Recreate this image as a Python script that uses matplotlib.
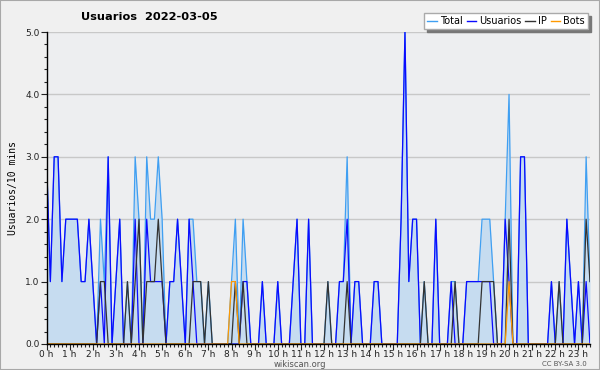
import matplotlib
matplotlib.use("Agg")
import matplotlib.pyplot as plt
from matplotlib.lines import Line2D
from matplotlib.patches import Rectangle
from matplotlib.ticker import MultipleLocator

# valores cada 10 minutos (6 por hora)
usuarios = [3, 1, 3, 3, 1, 2,  2, 2, 2, 1, 1, 2,  1, 0, 1, 0, 3, 0,  1, 2, 0, 0, 0, 2,
            0, 0, 2, 1, 1, 1,  1, 0, 1, 1, 2, 1,  0, 2, 1, 0, 0, 0,  0, 0, 0, 0, 0, 0,
            0, 0, 0, 1, 1, 0,  0, 0, 1, 0, 0, 0,  1, 0, 0, 0, 1, 2,  0, 0, 2, 0, 0, 0,
            0, 0, 0, 0, 1, 1,  2, 0, 1, 1, 0, 0,  0, 1, 1, 0, 0, 0,  0, 0, 2, 5, 1, 2,
            2, 0, 0, 0, 0, 2,  0, 0, 0, 1, 0, 0,  0, 1, 1, 1, 1, 1,  1, 1, 0, 0, 0, 2,
            1, 0, 0, 3, 3, 0,  0, 0, 0, 0, 0, 1,  0, 0, 0, 2, 1, 0,  1, 0, 1, 0]
ip = [0, 0, 0, 0, 0, 0,  0, 0, 0, 0, 0, 0,  0, 0, 1, 1, 0, 0,  0, 0, 0, 1, 0, 1,
      2, 0, 1, 1, 1, 2,  1, 0, 0, 0, 0, 0,  0, 0, 1, 1, 1, 0,  1, 0, 0, 0, 0, 0,
      0, 1, 0, 1, 0, 0,  0, 0, 0, 0, 0, 0,  0, 0, 0, 0, 0, 0,  0, 0, 0, 0, 0, 0,
      0, 1, 0, 0, 0, 0,  1, 0, 0, 0, 0, 0,  0, 0, 0, 0, 0, 0,  0, 0, 0, 0, 0, 0,
      0, 0, 1, 0, 0, 0,  0, 0, 0, 0, 1, 0,  0, 0, 0, 0, 0, 1,  1, 1, 1, 0, 0, 0,
      2, 0, 0, 0, 0, 0,  0, 0, 0, 0, 0, 0,  0, 1, 0, 0, 0, 0,  0, 0, 2, 1]
bots = [0] * 48 + [1, 1] + [0] * 70 + [1] + [0] * 21
total = [3, 1, 3, 3, 1, 2,  2, 2, 2, 1, 1, 2,  1, 0, 2, 1, 3, 0,  1, 2, 0, 1, 0, 3,
         2, 0, 3, 2, 2, 3,  2, 0, 1, 1, 2, 1,  0, 2, 2, 1, 1, 0,  1, 0, 0, 0, 0, 0,
         1, 2, 0, 2, 1, 0,  0, 0, 1, 0, 0, 0,  1, 0, 0, 0, 1, 2,  0, 0, 2, 0, 0, 0,
         0, 1, 0, 0, 1, 1,  3, 0, 1, 1, 0, 0,  0, 1, 1, 0, 0, 0,  0, 0, 2, 5, 1, 2,
         2, 0, 1, 0, 0, 2,  0, 0, 0, 1, 1, 0,  0, 1, 1, 1, 1, 2,  2, 2, 1, 0, 0, 2,
         4, 0, 0, 3, 3, 0,  0, 0, 0, 0, 0, 1,  0, 1, 0, 2, 1, 0,  1, 0, 3, 1]
horas = [i / 6 for i in range(len(total))]
hora_labels = ["%d h" % h for h in range(24)]

c_total = "#3f9ff2"
c_usr = "#0a0aff"
c_ip = "#333333"
c_bots = "#ff9900"

fig = plt.figure(figsize=(6, 3.7), dpi=100)
fig.patch.set_facecolor("#f0f0f0")
fig.patches.append(Rectangle((0, 0), 1, 1, transform=fig.transFigure, fill=False,
                             edgecolor="#a8a8a8", lw=1.5))

ax = fig.add_axes([0.0775, 0.0703, 0.9058, 0.8432])
ax.set_facecolor("#edeef0")
ax.fill_between(horas, total, color="#c6dcf0", lw=0)
ax.plot(horas, total, color=c_total, lw=0.9)
ax.plot(horas, usuarios, color=c_usr, lw=0.9)
ax.plot(horas, ip, color=c_ip, lw=0.9)
ax.plot(horas, bots, color=c_bots, lw=0.9)

ax.set_xlim(0, horas[-1])
ax.set_ylim(0, 5)
ax.set_xticks(range(24))
ax.set_xticklabels(hora_labels)
ax.xaxis.set_minor_locator(MultipleLocator(1 / 6))
ax.set_yticks(range(6))
ax.set_yticklabels(["%.1f" % v for v in range(6)])
ax.yaxis.set_minor_locator(MultipleLocator(0.2))
ax.tick_params(which="major", length=4, width=0.8, labelsize=6.5, pad=1,
               colors="#222222")
ax.tick_params(axis="x", which="major", pad=0)
ax.tick_params(which="minor", length=2.5, width=0.8, colors="#222222")
ax.grid(axis="y", color="#c8c8c8", lw=1)
ax.set_axisbelow(True)
for s in ["top", "right"]:
    ax.spines[s].set_visible(False)
for s in ["left", "bottom"]:
    ax.spines[s].set_color("black")
    ax.spines[s].set_linewidth(1)

ax.set_ylabel("Usuarios/10 mins", family="DejaVu Sans Mono", fontsize=7, labelpad=5)

fig.text(0.135, 0.953, "Usuarios  2022-03-05", fontsize=8.2, fontweight="bold",
         ha="left", va="center")

handles = [Line2D([], [], color=c, lw=1) for c in [c_total, c_usr, c_ip, c_bots]]
leg = fig.legend(handles, ["Total", "Usuarios", "IP", "Bots"], ncol=4,
                 loc="upper right", bbox_to_anchor=(0.988, 0.977), fontsize=7,
                 handlelength=1.0, handletextpad=0.3, columnspacing=0.4,
                 borderpad=0.3, fancybox=False, framealpha=1, edgecolor="#aaaaaa",
                 shadow={"color": "#777777", "alpha": 1})

fig.text(0.5, 0.016, "wikiscan.org", fontsize=6, color="#555555", ha="center", va="center")
fig.text(0.94, 0.016, "CC BY-SA 3.0", fontsize=5, color="#555555", ha="center", va="center")

fig.savefig("out.png", dpi=100, facecolor=fig.get_facecolor())
